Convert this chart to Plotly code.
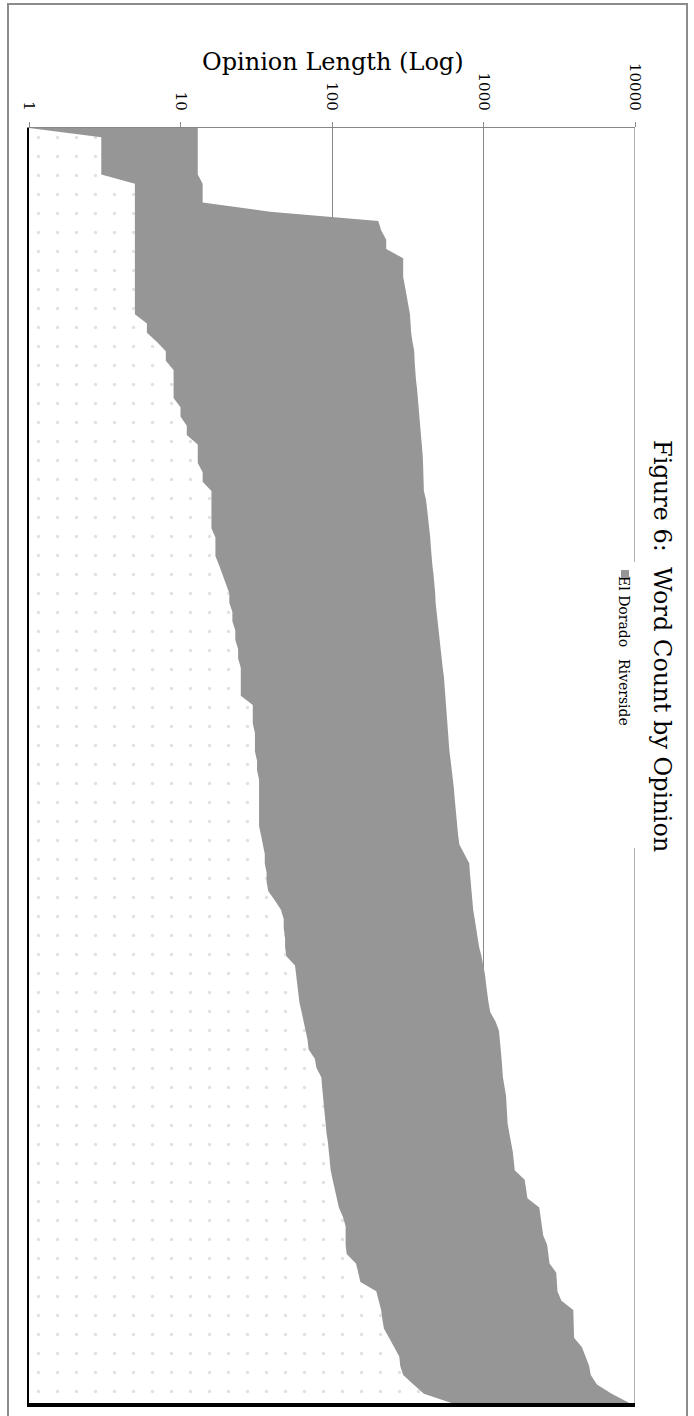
import plotly.graph_objects as go

# Word counts per opinion, sorted shortest to longest (one entry per opinion rank)
el_dorado = [
    13, 13, 13, 13, 13, 13, 14, 14, 14, 39,
    202, 211, 228, 228, 295, 295, 295, 303, 310, 316,
    327, 330, 333, 340, 349, 351, 353, 358, 364, 369,
    373, 378, 383, 387, 391, 396, 399, 401, 403, 404,
    418, 425, 433, 441, 445, 449, 453, 460, 468, 476,
    480, 483, 490, 498, 506, 511, 519, 528, 538, 548,
    554, 560, 565, 570, 575, 581, 586, 596, 607, 618,
    631, 638, 645, 652, 662, 672, 680, 693, 750, 805,
    813, 822, 830, 842, 855, 875, 895, 915, 935, 970,
    1000, 1024, 1040, 1055, 1080, 1107, 1200, 1265, 1285, 1303,
    1316, 1330, 1343, 1375, 1409, 1420, 1432, 1443, 1480, 1520,
    1560, 1585, 1607, 1870, 1910, 1950, 2334, 2380, 2430, 2478,
    2631, 2680, 2728, 3022, 3050, 3077, 3268, 3915, 3930, 3950,
    3963, 4467, 4720, 4976, 5103, 5611, 7014, 9184,
]
riverside = [
    1, 3, 3, 3, 3, 3, 5, 5, 5, 5,
    5, 5, 5, 5, 5, 5, 5, 5, 5, 5,
    5, 6, 6, 7, 8, 8, 9, 9, 9, 9,
    10, 10, 11, 11, 13, 13, 13, 14, 14, 16,
    16, 16, 16, 16, 17, 17, 17, 18, 19, 20,
    21, 21, 22, 22, 23, 23, 24, 24, 25, 25,
    25, 25, 30, 30, 30, 31, 31, 31, 32, 32,
    33, 33, 33, 33, 33, 33, 34, 35, 36, 36,
    37, 37, 38, 42, 46, 48, 48, 49, 49, 50,
    57, 58, 59, 60, 61, 63, 65, 67, 69, 70,
    77, 79, 85, 86, 87, 88, 89, 90, 92, 94,
    95, 97, 98, 101, 104, 107, 111, 118, 123, 123,
    123, 125, 144, 149, 154, 196, 203, 211, 215, 220,
    238, 258, 278, 282, 295, 345, 404, 615,
]
ranks = list(range(1, len(el_dorado) + 1))

tick_vals = [1, 10, 100, 1000, 10000]
tick_text = ["1", "10", "100", "1000", "10000"]

SERIF = "DejaVu Serif, Liberation Serif, serif"
GRID = "#878787"
W, H = 694, 1416
L, T, R, B = 29, 128, 59, 13
PW, PH = W - L - R, H - T - B


def px_x(px):
    return (px - L) / PW


def px_y(py):
    return (T + PH - py) / PH


def closed_area(values):
    # area down to the value-axis minimum (1), closed back to the first rank
    xs = list(values) + [tick_vals[0], tick_vals[0]]
    ys = ranks + [ranks[-1], ranks[0]]
    return xs, ys


fig = go.Figure()

xe, ye = closed_area(el_dorado)
fig.add_trace(go.Scatter(
    x=xe, y=ye, mode="lines", fill="toself",
    fillcolor="#969696", line=dict(width=0, color="#969696"),
    name="El Dorado", showlegend=False, hoverinfo="skip",
))

xr, yr = closed_area(riverside)
fig.add_trace(go.Scatter(
    x=xr, y=yr, mode="lines", fill="toself",
    fillcolor="white", line=dict(width=0, color="white"),
    fillpattern=dict(shape=".", fgcolor="#c4c4c4", bgcolor="white",
                     size=19, solidity=0.025, fillmode="overlay"),
    name="Riverside", showlegend=False, hoverinfo="skip",
))

# carrier for the bottom edge axis line
fig.add_trace(go.Scatter(x=[tick_vals[0]], y=[ranks[-1]], xaxis="x2",
                         mode="none", showlegend=False, hoverinfo="skip"))

fig.update_layout(
    width=W, height=H,
    margin=dict(l=L, r=R, t=T, b=B),
    paper_bgcolor="white", plot_bgcolor="white",
    showlegend=False,
    xaxis=dict(
        type="log", range=[0, 4], side="top",
        tickvals=tick_vals, ticktext=tick_text, tickangle=90,
        tickfont=dict(family=SERIF, size=15, color="black"),
        ticks="outside", ticklen=5, tickcolor=GRID, ticklabelstandoff=6,
        showline=True, linecolor=GRID, linewidth=1,
        showgrid=True, gridcolor=GRID, gridwidth=1.3,
        zeroline=False,
    ),
    xaxis2=dict(
        type="log", range=[0, 4], overlaying="x", side="bottom",
        showline=True, linecolor="black", linewidth=4,
        showticklabels=False, ticks="", showgrid=False, zeroline=False,
    ),
    yaxis=dict(
        range=[ranks[-1], ranks[0]],
        showline=True, linecolor="black", linewidth=2,
        showticklabels=False, ticks="", showgrid=False, zeroline=False,
    ),
)

shapes = [
    # gridline at the top of the value range (plot edge)
    dict(type="line", xref="x", yref="paper",
         x0=tick_vals[-1], x1=tick_vals[-1], y0=0, y1=1,
         line=dict(width=1.3, color=GRID), layer="below"),
    # legend box background
    dict(type="rect", xref="paper", yref="paper",
         x0=px_x(603), x1=px_x(648), y0=px_y(848), y1=px_y(562),
         fillcolor="white", line=dict(width=0), layer="above"),
    # legend swatch
    dict(type="rect", xref="paper", yref="paper",
         x0=px_x(621), x1=px_x(629), y0=px_y(578), y1=px_y(570),
         fillcolor="#969696", line=dict(width=0), layer="above"),
    # outer chart border
    dict(type="rect", xref="paper", yref="paper",
         x0=px_x(8), x1=px_x(687), y0=px_y(1420), y1=px_y(4),
         fillcolor="rgba(0,0,0,0)", line=dict(width=2, color="#8c8c8c"),
         layer="above"),
]


def label(text, cx, cy, size, angle=0):
    return dict(text=text, xref="paper", yref="paper",
                x=px_x(cx), y=px_y(cy), xanchor="center", yanchor="middle",
                textangle=angle, showarrow=False,
                font=dict(family=SERIF, size=size, color="black"))


annotations = [
    label("Opinion Length (Log)", 333, 62, 24),
    label("Figure 6:  Word Count by Opinion", 662, 646, 24, 90),
    label("El Dorado", 624, 611, 14, 90),
    label("Riverside", 624, 692, 14, 90),
]

fig.update_layout(shapes=shapes, annotations=annotations)
fig.write_html("out.html")
